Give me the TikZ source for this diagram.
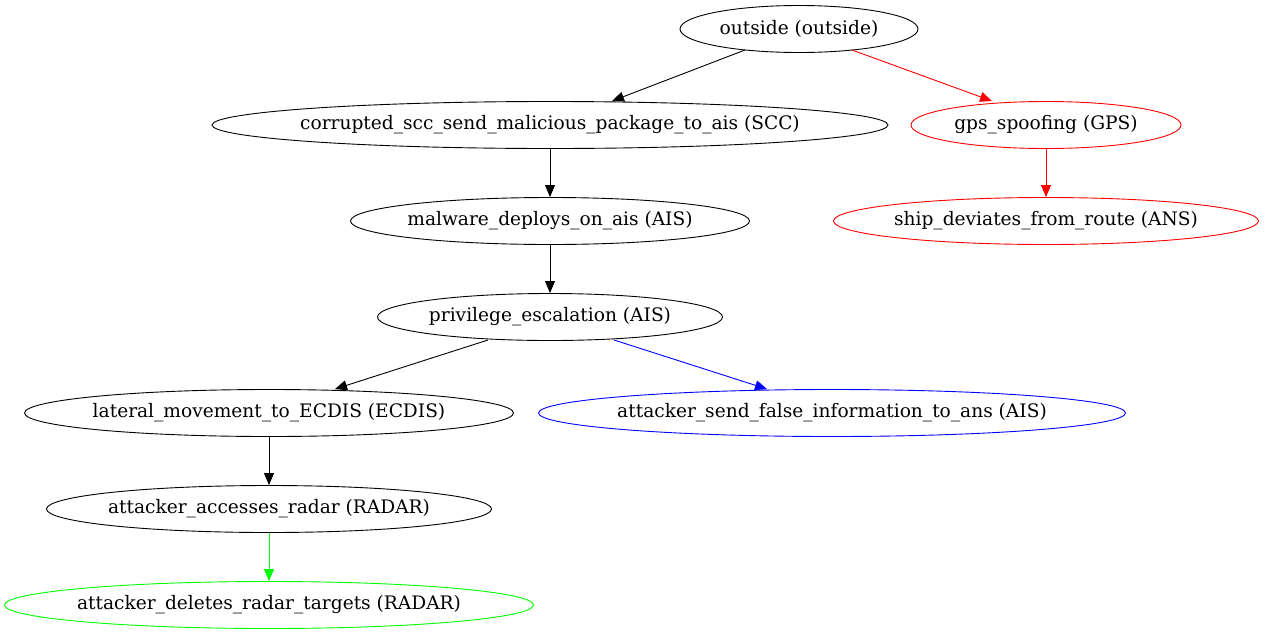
\documentclass[tikz,border=0pt]{standalone}
\usepackage{fontspec}
\setmainfont{DejaVu Serif}
\usetikzlibrary{arrows.meta,shapes.geometric}
\begin{document}
\begin{tikzpicture}[x=1pt,y=-1pt,
  st/.style={ellipse,draw,line width=0.9pt,inner sep=0pt,minimum height=47pt},
  lb/.style={label={[font=\fontsize{18.6}{22}\selectfont]center:#1}},
  ed/.style={line width=0.9pt,-{Triangle[length=12pt,width=10pt]}}]
\useasboundingbox (0,0) rectangle (1265,635);
\node[st,minimum width=238pt,lb={outside (outside)}] (out) at (799,29) {};
\node[st,minimum width=676pt,lb={corrupted\_scc\_send\_malicious\_package\_to\_ais (SCC)}] (scc) at (550,125) {};
\node[st,minimum width=270pt,draw=red,lb={gps\_spoofing (GPS)}] (gps) at (1046,125) {};
\node[st,minimum width=399pt,lb={malware\_deploys\_on\_ais (AIS)}] (mal) at (550,221) {};
\node[st,minimum width=425pt,draw=red,lb={ship\_deviates\_from\_route (ANS)}] (ship) at (1046,221) {};
\node[st,minimum width=345pt,lb={privilege\_escalation (AIS)}] (priv) at (550,317) {};
\node[st,minimum width=489pt,lb={lateral\_movement\_to\_ECDIS (ECDIS)}] (lat) at (269,413) {};
\node[st,minimum width=587pt,draw=blue,lb={attacker\_send\_false\_information\_to\_ans (AIS)}] (fal) at (832,413) {};
\node[st,minimum width=445pt,lb={attacker\_accesses\_radar (RADAR)}] (acc) at (269,509) {};
\node[st,minimum width=529pt,draw=green,lb={attacker\_deletes\_radar\_targets (RADAR)}] (del) at (269,605) {};
\coordinate (o1) at (745,50); \coordinate (o2) at (852,50);
\coordinate (p1) at (488,340); \coordinate (p2) at (614,340);
\draw[ed] (o1) -- (scc.north -| 612,0);
\draw[ed,red] (o2) -- (gps.north -| 992,0);
\draw[ed] (scc) -- (mal);
\draw[ed,red] (gps) -- (ship);
\draw[ed] (mal) -- (priv);
\draw[ed] (p1) -- (lat.north -| 335,0);
\draw[ed,blue] (p2) -- (fal.north -| 767,0);
\draw[ed] (lat) -- (acc);
\draw[ed,green] (acc) -- (del);
\end{tikzpicture}
\end{document}
